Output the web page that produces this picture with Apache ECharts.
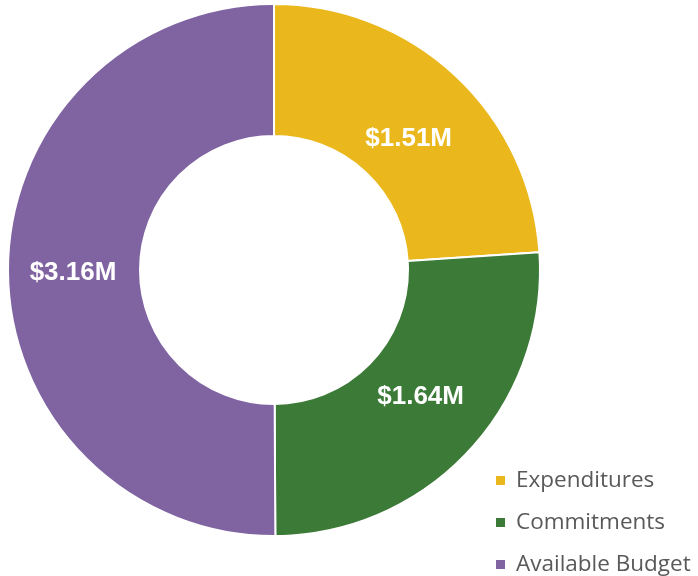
<!DOCTYPE html>
<html>
<head>
<meta charset="utf-8">
<script src="https://cdn.jsdelivr.net/npm/echarts@6/dist/echarts.min.js"></script>
<style>html,body{margin:0;padding:0;background:#fff}#c{width:698px;height:576px}</style>
</head>
<body>
<div id="c"></div>
<script>
const categories = ["Expenditures", "Commitments", "Available Budget"];
const values = [1.51, 1.64, 3.16];
const colors = ["#EAB81D", "#3C7A37", "#8064A2"];
// label nudges (styling only)
const labelNudge = [[-4, 17], [-2, -11], [2, 2]];

const chart = echarts.init(document.getElementById('c'));
chart.setOption({
  animation: false,
  color: colors,
  legend: {
    orient: 'vertical',
    left: 494,
    top: 469,
    padding: 0,
    icon: 'rect',
    itemWidth: 11,
    itemHeight: 11,
    itemGap: 19,
    textStyle: { fontFamily: 'Open Sans', fontSize: 22.5, lineHeight: 22, color: '#595959', padding: [0, 0, 0, 5] },
    data: categories
  },
  series: [{
    type: 'pie',
    center: [274, 270],
    radius: [134, 266],
    startAngle: 90,
    clockwise: true,
    avoidLabelOverlap: false,
    itemStyle: { borderColor: '#fff', borderWidth: 2 },
    label: {
      show: true,
      position: 'inside',
      formatter: p => '$' + p.value.toFixed(2) + 'M',
      fontFamily: 'Liberation Sans',
      fontWeight: 'bold',
      fontSize: 26,
      color: '#fff'
    },
    labelLine: { show: false },
    emphasis: { disabled: true },
    data: categories.map((n, i) => ({ name: n, value: values[i], label: { offset: labelNudge[i] } }))
  }]
});
</script>
</body>
</html>
